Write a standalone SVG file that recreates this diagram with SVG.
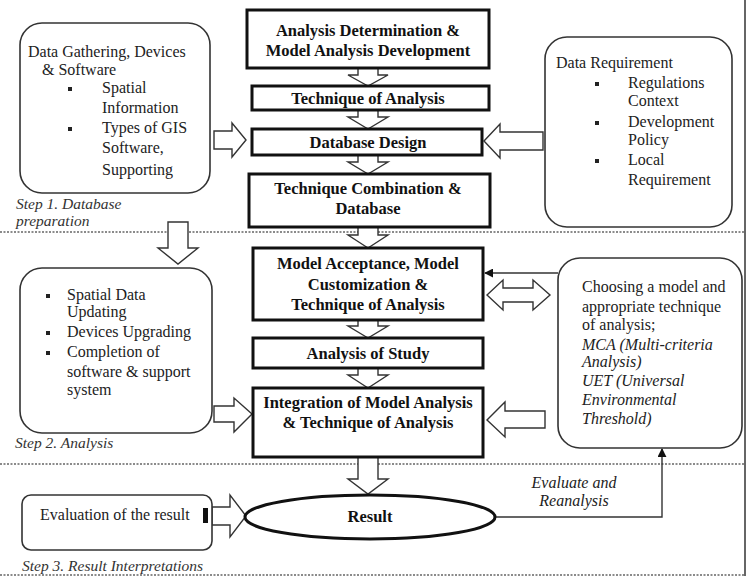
<svg xmlns="http://www.w3.org/2000/svg" width="749" height="578" viewBox="0 0 749 578">
<defs>
<style>
.main{fill:#fff;stroke:#111;stroke-width:3}
.rbox{fill:#fff;stroke:#333;stroke-width:1.6}
.bt{font-family:'Liberation Serif','Times New Roman','DejaVu Serif',serif;font-weight:bold;font-size:16.5px;fill:#111;text-anchor:middle}
.t{font-family:'Liberation Serif','Times New Roman','DejaVu Serif',serif;font-size:16px;fill:#222}
.it{font-family:'Liberation Serif','Times New Roman','DejaVu Serif',serif;font-style:italic;font-size:16px;fill:#222}
.st{font-family:'Liberation Serif','Times New Roman','DejaVu Serif',serif;font-style:italic;font-size:15.5px;fill:#333}
.blk{fill:#fff;stroke:#333;stroke-width:1.4;stroke-linejoin:miter}
.sep{stroke:#666;stroke-width:1.3;stroke-dasharray:2 1.5;fill:none}
.ln{stroke:#333;stroke-width:1.4;fill:none}
</style>
<marker id="ah" viewBox="0 0 10 10" refX="9" refY="5" markerWidth="9" markerHeight="9" orient="auto-start-reverse" markerUnits="userSpaceOnUse">
<path d="M0,0 L10,5 L0,10 Z" fill="#111"/>
</marker>
</defs>
<rect x="0" y="0" width="749" height="578" fill="#fff"/>
<g id="frame">
<line class="sep" x1="0" y1="232" x2="745" y2="232"/>
<line class="sep" x1="0" y1="464" x2="745" y2="464"/>
<line class="sep" x1="0" y1="575" x2="745" y2="575"/>
<line x1="745" y1="0" x2="745" y2="576" stroke="#333" stroke-width="1.5"/>
</g>
<g id="connectors">
<path class="blk" d="M358,68 V75 H348 L368,86 L388,75 H378 V68 Z"/>
<path class="blk" d="M358,110 V117 H348 L368,129 L388,117 H378 V110 Z"/>
<path class="blk" d="M358,155 V162 H348 L368,174 L388,162 H378 V155 Z"/>
<path class="blk" d="M358,227 V235 H348 L368,248 L388,235 H378 V227 Z"/>
<path class="blk" d="M358,320 V326 H348 L368,338 L388,326 H378 V320 Z"/>
<path class="blk" d="M358,368 V375 H348 L368,388 L388,375 H378 V368 Z"/>
<path class="blk" d="M358,457 V479 H348 L368,494 L388,479 H378 V457 Z"/>
<path class="blk" d="M214,131 H232 V123 L246,140 L232,157 V149 H214 Z"/>
<path class="blk" d="M543,132 H500 V124 L484,141 L500,158 V150 H543 Z"/>
<path class="blk" d="M168,222 V248 H158 L178,264 L198,248 H188 V222 Z"/>
<path class="blk" d="M214,406 H234 V398 L252,414 L234,432 V422 H214 Z"/>
<path class="blk" d="M545,411 H505 V402 L487,420 L505,437 V428 H545 Z"/>
<path class="blk" d="M487,295 L503,280 V288 H533 V280 L550,295 L533,310 V302 H503 V310 Z"/>
<line class="ln" x1="558" y1="273" x2="485" y2="273" marker-end="url(#ah)"/>
<path class="blk" d="M212,507 H230 V495 L246,516 L230,537 V525 H212 Z"/>
<polyline class="ln" points="495,517 662,517 662,449" marker-end="url(#ah)"/>
<text class="it" x="574" y="488" text-anchor="middle" font-size="15">Evaluate and</text>
<text class="it" x="574" y="506" text-anchor="middle" font-size="15">Reanalysis</text>
</g>
<g id="n1">
<rect class="main" x="247" y="10" width="242" height="58"/>
<text class="bt" x="368" y="36">Analysis Determination &amp;</text>
<text class="bt" x="368" y="56">Model Analysis Development</text>
</g>
<g id="n2">
<rect class="main" x="252" y="86" width="237" height="24"/>
<text class="bt" x="368" y="104">Technique of Analysis</text>
</g>
<g id="n3">
<rect class="main" x="252" y="129" width="230" height="26"/>
<text class="bt" x="368" y="148">Database Design</text>
</g>
<g id="n4">
<rect class="main" x="249" y="174" width="241" height="53"/>
<text class="bt" x="368" y="194">Technique Combination &amp;</text>
<text class="bt" x="368" y="214">Database</text>
</g>
<g id="n5">
<rect class="main" x="253" y="248" width="230" height="72"/>
<text class="bt" x="368" y="269">Model Acceptance, Model</text>
<text class="bt" x="368" y="290">Customization &amp;</text>
<text class="bt" x="368" y="310">Technique of Analysis</text>
</g>
<g id="n6">
<rect class="main" x="253" y="338" width="230" height="30"/>
<text class="bt" x="368" y="359">Analysis of Study</text>
</g>
<g id="n7">
<rect class="main" x="253" y="388" width="230" height="69"/>
<text class="bt" x="368" y="408">Integration of Model Analysis</text>
<text class="bt" x="368" y="428">&amp; Technique of Analysis</text>
</g>
<g id="left1">
<rect class="rbox" x="20" y="23" width="190" height="170" rx="22"/>
<text class="t" x="28" y="57">Data Gathering, Devices</text>
<text class="t" x="42" y="75">&amp; Software</text>
<rect x="68" y="87" width="4" height="4" fill="#222"/>
<text class="t" x="102" y="93">Spatial</text>
<text class="t" x="102" y="113">Information</text>
<rect x="68" y="127" width="4" height="4" fill="#222"/>
<text class="t" x="102" y="133">Types of GIS</text>
<text class="t" x="102" y="153">Software,</text>
<text class="t" x="102" y="175">Supporting</text>
</g>
<g id="right1">
<rect class="rbox" x="545" y="37" width="187" height="190" rx="22"/>
<text class="t" x="556" y="68">Data Requirement</text>
<rect x="595" y="82" width="4" height="4" fill="#222"/>
<text class="t" x="628" y="88">Regulations</text>
<text class="t" x="628" y="106">Context</text>
<rect x="595" y="121" width="4" height="4" fill="#222"/>
<text class="t" x="628" y="127">Development</text>
<text class="t" x="628" y="145">Policy</text>
<rect x="595" y="159" width="4" height="4" fill="#222"/>
<text class="t" x="628" y="165">Local</text>
<text class="t" x="628" y="185">Requirement</text>
</g>
<g id="left2">
<rect class="rbox" x="20" y="268" width="192" height="165" rx="22"/>
<rect x="46" y="294" width="4" height="4" fill="#222"/>
<text class="t" x="67" y="300">Spatial Data</text>
<text class="t" x="67" y="317">Updating</text>
<rect x="46" y="331" width="4" height="4" fill="#222"/>
<text class="t" x="67" y="337">Devices Upgrading</text>
<rect x="46" y="351" width="4" height="4" fill="#222"/>
<text class="t" x="67" y="357">Completion of</text>
<text class="t" x="67" y="377">software &amp; support</text>
<text class="t" x="67" y="395">system</text>
</g>
<g id="right2">
<rect class="rbox" x="558" y="258" width="184" height="190" rx="22"/>
<text class="t" x="582" y="292">Choosing a model and</text>
<text class="t" x="582" y="312">appropriate technique</text>
<text class="t" x="582" y="330">of analysis;</text>
<text class="it" x="582" y="350">MCA (Multi-criteria</text>
<text class="it" x="582" y="367">Analysis)</text>
<text class="it" x="582" y="386">UET (Universal</text>
<text class="it" x="582" y="405">Environmental</text>
<text class="it" x="582" y="424">Threshold)</text>
</g>
<g id="eval">
<rect class="rbox" x="22" y="495" width="190" height="55" rx="9"/>
<text class="t" x="40" y="520">Evaluation of the result</text>
<rect x="203" y="508" width="5" height="15" fill="#111"/>
</g>
<g id="result">
<ellipse cx="370" cy="517" rx="125" ry="22" fill="#fff" stroke="#111" stroke-width="3"/>
<text class="bt" x="370" y="522">Result</text>
</g>
<g id="steps">
<text class="st" x="16" y="209">Step 1. Database</text>
<text class="st" x="16" y="226">preparation</text>
<text class="st" x="15" y="448">Step 2. Analysis</text>
<text class="st" x="22" y="571">Step 3. Result Interpretations</text>
</g>
</svg>
